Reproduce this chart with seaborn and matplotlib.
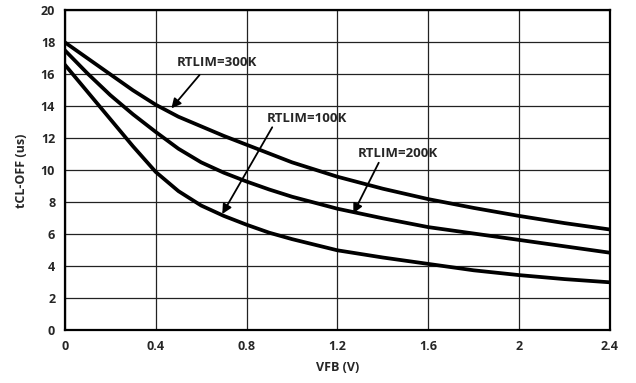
import numpy as np
import pandas as pd
import matplotlib
matplotlib.use("Agg")
import matplotlib.pyplot as plt
import seaborn as sns

# values
vfb = [0, 0.1, 0.2, 0.3, 0.4, 0.5, 0.6, 0.7, 0.8, 0.9, 1.0, 1.2, 1.4, 1.6, 1.8, 2.0, 2.2, 2.4]
t_300k = [18.0, 17.0, 16.0, 15.0, 14.1, 13.35, 12.75, 12.15, 11.6, 11.05, 10.5, 9.6, 8.85, 8.2, 7.65, 7.15, 6.7, 6.3]
t_200k = [17.5, 16.05, 14.7, 13.5, 12.4, 11.35, 10.5, 9.85, 9.3, 8.8, 8.35, 7.6, 7.0, 6.45, 6.05, 5.65, 5.25, 4.85]
t_100k = [16.6, 14.9, 13.2, 11.5, 9.9, 8.7, 7.8, 7.15, 6.6, 6.1, 5.7, 5.0, 4.55, 4.15, 3.75, 3.45, 3.2, 3.0]

xticks = [0, 0.4, 0.8, 1.2, 1.6, 2, 2.4]
xticklabels = ["0", "0.4", "0.8", "1.2", "1.6", "2", "2.4"]
yticks = list(range(0, 21, 2))

df = pd.DataFrame({
    "VFB": vfb * 3,
    "t": t_300k + t_200k + t_100k,
    "RTLIM": ["300K"] * len(vfb) + ["200K"] * len(vfb) + ["100K"] * len(vfb),
})

sns.set_style("white")
plt.rcParams["font.family"] = ["Open Sans", "DejaVu Sans"]
plt.rcParams["font.weight"] = "bold"

fig = plt.figure(figsize=(6.36, 3.83), dpi=100)
ax = fig.add_axes([0.102, 0.1376, 0.857, 0.8354])

sns.lineplot(data=df, x="VFB", y="t", units="RTLIM", estimator=None,
             color="black", linewidth=2.7, ax=ax, legend=False)

ax.set_xlim(0, 2.4)
ax.set_ylim(0, 20)
ax.set_xticks(xticks)
ax.set_xticklabels(xticklabels)
ax.set_yticks(yticks)
ax.grid(True, color="#222222", linewidth=0.9)
ax.tick_params(length=0, labelsize=9, pad=7)
for lab in ax.get_xticklabels() + ax.get_yticklabels():
    lab.set_fontweight("bold")
for s in ax.spines.values():
    s.set_color("black")
    s.set_linewidth(1.6)

ax.set_xlabel("VFB (V)", fontsize=9, fontweight="bold", labelpad=6)
ax.set_ylabel("tCL-OFF (us)", fontsize=9, fontweight="bold", labelpad=9)

arrow = dict(arrowstyle="-|>", color="black", lw=1.3, mutation_scale=14,
             shrinkA=0, shrinkB=0)
labels = [
    ("RTLIM=300K", (0.670, 16.75), (0.593, 15.96), (0.469, 13.875)),
    ("RTLIM=100K", (1.064, 13.25), (0.913, 12.69), (0.693, 7.27)),
    ("RTLIM=200K", (1.468, 11.06), (1.382, 10.475), (1.270, 7.31)),
]
for txt, pos, tail, head in labels:
    ax.text(pos[0], pos[1], txt, ha="center", va="center", fontsize=9.5,
            fontweight="bold")
    ax.annotate("", xy=head, xytext=tail, arrowprops=arrow)

fig.savefig("out.png", dpi=100)
